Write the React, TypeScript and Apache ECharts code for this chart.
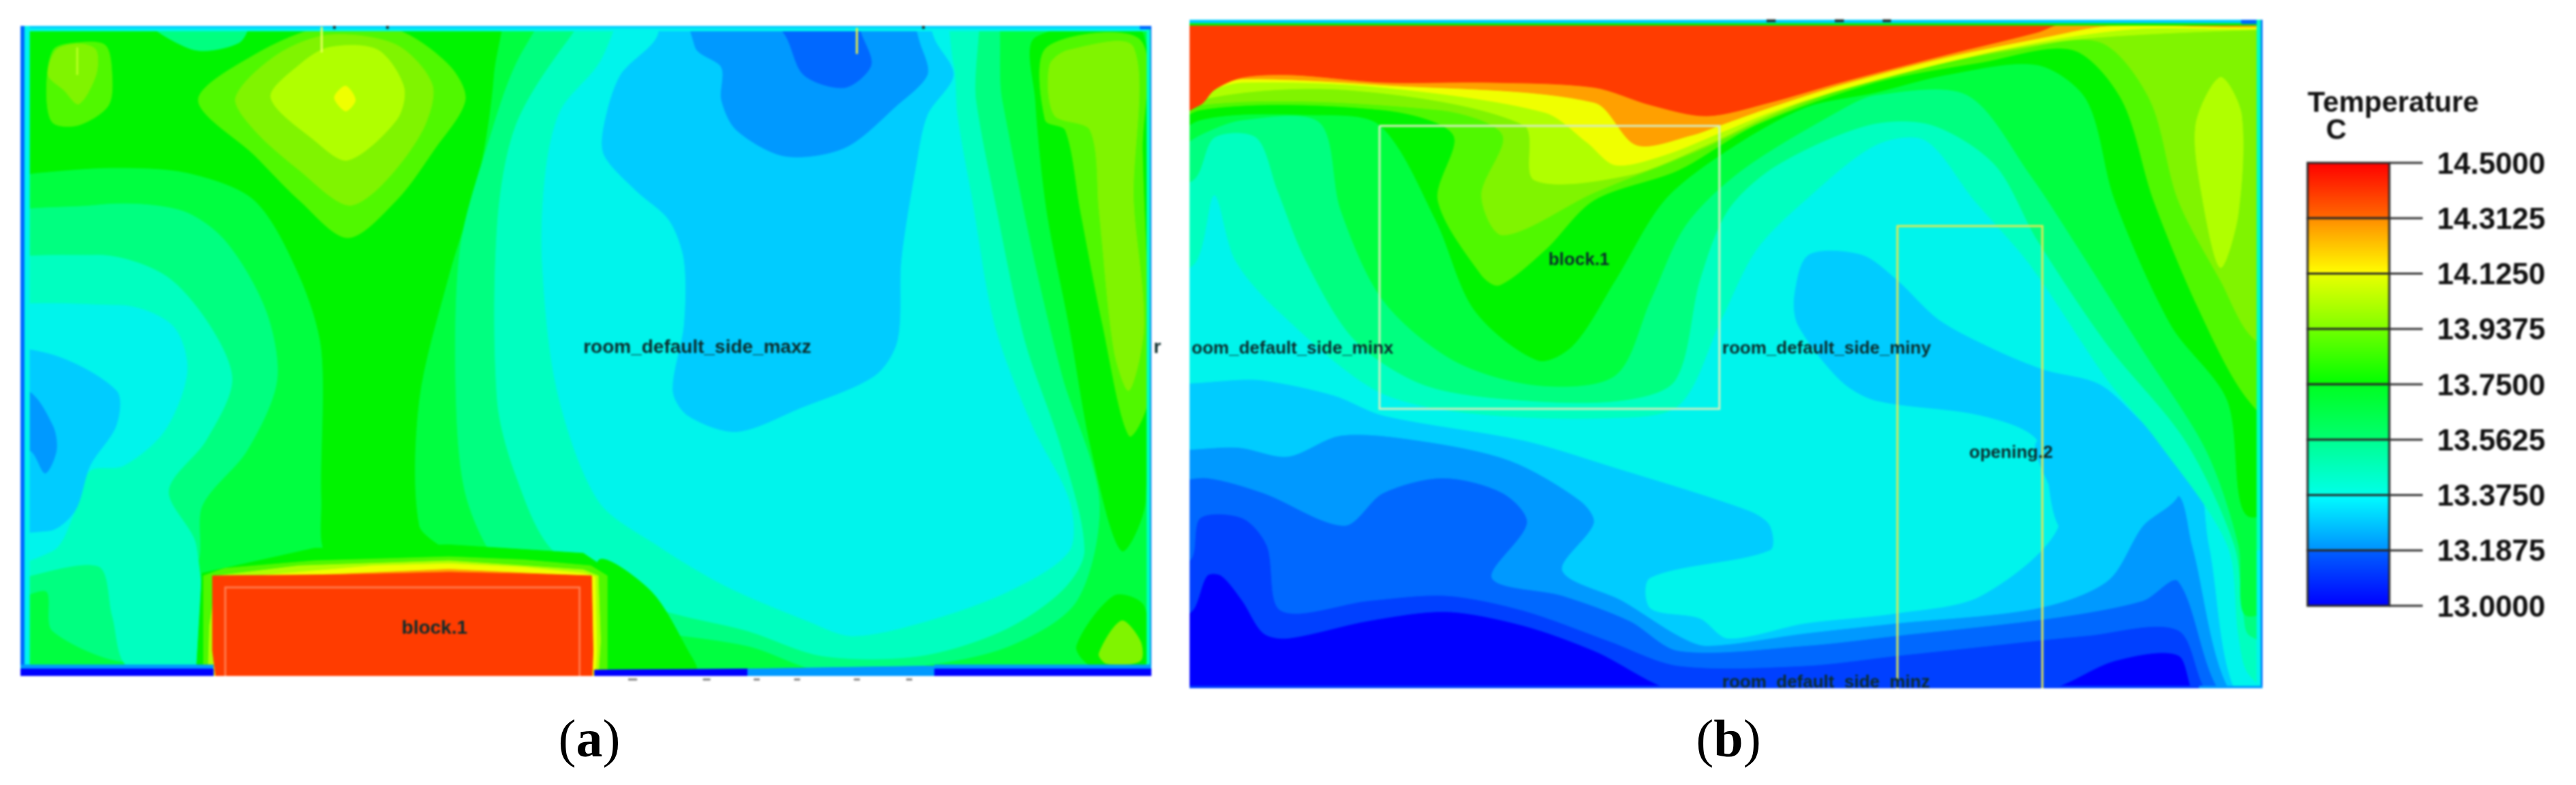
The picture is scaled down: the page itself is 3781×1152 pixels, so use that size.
import React, { useEffect, useRef } from "react";
import * as echarts from "echarts";

// Temperature bands (contour levels), band centre in deg C
const bandColors = ["#0000ff","#0040ff","#0068ff","#0099ff","#00ccff","#00f4ec","#00ffc0","#00ff80","#00ff40","#00f400","#50f800","#80f400","#b0ff00","#f0ff00","#ffa000","#ff3c00"];
const bandStep = 0.09375;
const bandTemps = bandColors.map((_, i) => 13 + (i + 0.5) * bandStep);

// Colour bar
const barTicks = [14.5, 14.3125, 14.125, 13.9375, 13.75, 13.5625, 13.375, 13.1875, 13.0];
const barColors = [["#ff0000","#ff6a00"],["#ff8c00","#ffff00"],["#eaff00","#80ff00"],["#70ff00","#00ff00"],["#00ff20","#00ff70"],["#00ff90","#00ffe8"],["#00ffff","#0090ff"],["#0060ff","#0000ff"]];

type C = [number, number[][], number?];
// Room coordinates: panel (a) x 27..1540, y 52..1350 (y down)
const contoursA: C[] = [
  [8,[[-50,-50],[1620,-50],[1620,1430],[-50,1430]],1],
  [9,[[-50,-50],[660,-50],[660,150],[640,350],[600,550],[560,800],[560,1050],[600,1110],[440,1110],[430,1000],[430,700],[400,550],[340,400],[250,345],[150,335],[50,345],[-50,360]]],
  [7,[[200,45],[330,45],[320,85],[260,100]]],
  [7,[[-50,470],[130,410],[240,420],[300,480],[355,620],[370,760],[330,900],[270,1010],[262,1130],[180,1230],[170,1320],[70,1260],[60,1180],[-50,1230]]],
  [6,[[-50,560],[130,510],[220,550],[280,650],[310,760],[275,880],[225,980],[262,1090],[262,1340],[170,1330],[150,1230],[130,1130],[-50,1150]]],
  [5,[[-50,650],[160,610],[230,650],[250,740],[220,860],[165,930],[120,940],[100,1020],[70,1100],[-50,1130]]],
  [4,[[-50,710],[60,705],[155,780],[155,850],[120,930],[100,1020],[65,1060],[-50,1040]]],
  [3,[[-50,790],[35,780],[70,850],[75,900],[60,945],[40,900],[-50,860]]],
  [7,[[790,-50],[700,100],[650,300],[615,500],[610,800],[625,1000],[680,1150],[800,1240],[1000,1290],[1100,1340],[1230,1330],[1350,1290],[1440,1200],[1470,1000],[1420,750],[1380,500],[1340,200],[1310,-50]]],
  [6,[[840,-50],[760,80],[690,250],[665,450],[665,800],[690,950],[740,1100],[870,1210],[1000,1260],[1100,1310],[1230,1310],[1340,1260],[1420,1180],[1450,1100],[1420,900],[1370,680],[1330,400],[1305,200],[1290,-50]]],
  [5,[[870,-50],[800,130],[750,220],[730,340],[725,520],[745,780],[800,1000],[880,1090],[970,1170],[1080,1240],[1140,1270],[1240,1240],[1350,1180],[1430,1100],[1430,1000],[1380,850],[1330,650],[1300,400],[1280,230],[1275,130],[1240,-50]]],
  [4,[[880,-50],[880,70],[830,150],[808,250],[808,310],[850,380],[895,440],[915,520],[915,650],[900,780],[920,830],[985,862],[1070,815],[1170,750],[1200,680],[1205,520],[1225,330],[1240,230],[1275,150],[1250,80],[1215,-50]]],
  [3,[[925,-50],[930,95],[965,135],[965,200],[985,260],[1050,312],[1130,295],[1200,210],[1240,150],[1232,95],[1190,-50]]],
  [2,[[985,-50],[1050,70],[1075,150],[1130,175],[1165,130],[1150,60],[1135,-50]]],
  [10,[[265,200],[340,110],[430,55],[530,60],[600,130],[622,200],[580,300],[530,400],[465,475],[400,400],[340,310]]],
  [11,[[315,195],[370,110],[440,70],[530,90],[578,170],[565,260],[510,370],[465,410],[400,340],[340,260]]],
  [12,[[362,195],[400,130],[440,95],[505,100],[540,175],[530,240],[465,320],[420,280]]],
  [13,[[447,195],[462,172],[475,200],[462,222]]],
  [10,[[62,180],[71,100],[100,86],[140,90],[149,140],[145,210],[105,250],[70,245]]],
  [11,[[64,150],[75,100],[105,88],[128,100],[128,150],[105,208],[85,180]]],
  [9,[[1385,75],[1530,72],[1532,1000],[1500,1100],[1460,900],[1430,650],[1400,420],[1385,200]]],
  [10,[[1400,95],[1525,80],[1528,300],[1535,800],[1510,870],[1475,650],[1445,420],[1425,260],[1398,240]]],
  [11,[[1404,130],[1430,100],[1516,95],[1516,400],[1530,650],[1510,780],[1490,700],[1470,420],[1458,260],[1410,230]]],
  [9,[[1440,1290],[1490,1190],[1530,1210],[1530,1330],[1460,1330]]],
  [11,[[1470,1305],[1500,1240],[1525,1280],[1525,1320],[1480,1325]]],
  [9,[[800,1120],[870,1180],[920,1300],[930,1340],[800,1340]]],
  [9,[[270,1145],[420,1095],[600,1088],[780,1105],[825,1150],[825,1350],[262,1350]],1],
  [10,[[272,1150],[300,1135],[420,1120],[600,1112],[700,1118],[790,1130],[812,1150],[812,1350],[272,1350]],1],
  [12,[[290,1150],[400,1130],[600,1120],[780,1138],[800,1150],[803,1280],[800,1350],[278,1350],[280,1250]],1],
  [13,[[345,1150],[500,1130],[600,1126],[700,1133],[780,1145],[796,1152],[798,1300],[796,1350],[280,1350]],1],
  [14,[[400,1150],[600,1137],[780,1150],[780,1160],[400,1160]],1],
  [5,[[-50,-50],[1620,-50],[1620,62],[-50,62]],1],
  [4,[[-50,-50],[1620,-50],[1620,56],[-50,56]],1],
  [5,[[-50,-50],[39,-50],[39,1340],[-50,1340]],1],
  [2,[[-50,-50],[32,-50],[32,1340],[-50,1340]],1],
  [6,[[1534,-50],[1620,-50],[1620,1340],[1534,1340]],1],
  [2,[[1539,-50],[1620,-50],[1620,1340],[1539,1340]],1],
  [2,[[1525,-50],[1620,-50],[1620,58],[1525,58]],1],
  [3,[[-50,1328],[285,1328],[285,1430],[-50,1430]],1],
  [0,[[-50,1336],[285,1336],[285,1430],[-50,1430]],1],
  [0,[[795,1338],[1000,1336],[1010,1430],[795,1430]],1],
  [3,[[1000,1336],[1250,1330],[1255,1430],[1000,1430]],1],
  [3,[[1250,1328],[1620,1328],[1620,1430],[1250,1430]],1],
  [0,[[1250,1336],[1620,1336],[1620,1430],[1250,1430]],1],
  [15,[[284,1150],[450,1148],[600,1143],[700,1146],[791,1150],[793,1300],[790,1430],[295,1430],[284,1300]],1],
];

// Room coordinates: panel (b) x 25..1550, y 40..1375 (y down)
const contoursB: C[] = [
  [0,[[-50,-50],[1620,-50],[1620,1430],[-50,1430]],1],
  [1,[[-50,1225],[25,1225],[50,1150],[70,1150],[100,1200],[130,1265],[165,1275],[280,1240],[390,1222],[500,1250],[600,1300],[730,1385],[1130,1385],[1250,1375],[1340,1320],[1430,1309],[1459,1395],[1620,1430],[1620,-50],[-50,-50]]],
  [2,[[-50,1120],[25,1120],[40,1035],[100,1035],[135,1090],[155,1220],[280,1200],[390,1190],[500,1220],[620,1280],[720,1330],[900,1330],[1030,1310],[1130,1295],[1300,1270],[1430,1259],[1479,1395],[1620,1430],[1620,-50],[-50,-50]]],
  [3,[[-50,955],[50,955],[130,985],[245,1050],[300,985],[385,955],[470,985],[505,1045],[455,1155],[555,1190],[650,1240],[720,1300],[900,1290],[1030,1270],[1250,1235],[1380,1200],[1430,1161],[1497,1395],[1620,1430],[1620,-50],[-50,-50]]],
  [4,[[-50,870],[100,895],[165,912],[240,870],[350,880],[480,920],[580,1000],[600,1045],[555,1140],[640,1200],[720,1270],[760,1290],[900,1265],[1030,1245],[1230,1215],[1330,1160],[1380,1050],[1430,990],[1450,1089],[1510,1395],[1620,1430],[1620,-50],[-50,-50]]],
  [5,[[-50,735],[130,760],[230,790],[300,830],[500,880],[620,930],[820,1020],[850,1050],[850,1100],[680,1155],[680,1215],[750,1235],[790,1275],[900,1245],[1030,1225],[1150,1190],[1260,1050],[1230,880],[1440,880],[1474,1089],[1517,1395],[1620,1430],[1620,-50],[-50,-50]]],
  [4,[[905,510],[980,510],[1030,560],[1090,640],[1170,700],[1240,740],[1320,770],[1400,870],[1435,885],[1430,990],[1380,1050],[1330,1150],[1260,1050],[1230,880],[1150,830],[1000,800],[950,760],[890,650],[885,590]]],
  [6,[[-50,535],[30,530],[60,390],[90,520],[150,620],[290,780],[420,825],[620,835],[720,810],[780,640],[830,500],[900,400],[1000,290],[1070,280],[1140,400],[1220,530],[1330,760],[1400,880],[1500,1089],[1516,1270],[1532,1350],[1620,1430],[1620,-50],[-50,-50]]],
  [7,[[-50,380],[30,360],[60,275],[120,275],[150,380],[190,520],[260,680],[360,770],[500,800],[640,800],[715,760],[750,560],[790,420],[860,330],[990,250],[1080,250],[1170,330],[1230,480],[1330,690],[1440,880],[1510,1089],[1523,1225],[1532,1270],[1620,1300],[1620,-50],[-50,-50]]],
  [8,[[-50,340],[40,270],[100,240],[210,245],[240,420],[300,600],[400,720],[520,770],[630,750],[680,600],[730,450],[810,340],[950,220],[1000,190],[1130,190],[1220,350],[1290,500],[1380,700],[1470,900],[1516,1089],[1527,1230],[1620,1150],[1620,-50],[-50,-50]]],
  [9,[[-50,320],[40,240],[200,230],[295,250],[375,440],[430,620],[520,720],[570,690],[630,560],[700,400],[790,300],[900,215],[1000,185],[1100,150],[1230,130],[1300,200],[1340,400],[1420,650],[1500,800],[1528,1030],[1620,950],[1620,-50],[-50,-50]]],
  [10,[[-50,300],[40,220],[300,220],[400,270],[378,400],[440,550],[465,570],[530,500],[600,400],[720,340],[830,250],[1000,165],[1150,125],[1280,100],[1350,200],[1395,400],[1460,620],[1530,800],[1620,900],[1620,-50],[-50,-50]]],
  [11,[[-50,290],[40,210],[380,220],[470,270],[440,390],[470,470],[600,385],[750,300],[850,235],[1000,155],[1200,100],[1320,85],[1390,200],[1430,400],[1490,560],[1540,680],[1620,700],[1620,-50],[-50,-50]]],
  [12,[[-50,280],[40,200],[250,180],[500,250],[515,360],[650,350],[760,290],[850,230],[1000,150],[1250,85],[1370,70],[1540,60],[1620,60],[1620,-50],[-50,-50]]],
  [12,[[1455,250],[1490,155],[1520,230],[1515,430],[1490,535],[1465,400]]],
  [13,[[-50,270],[50,185],[100,165],[300,175],[530,225],[590,285],[630,330],[700,310],[780,265],[850,225],[950,180],[1100,125],[1250,80],[1370,58],[1620,45],[1620,-50],[-50,-50]]],
  [14,[[-50,260],[60,175],[100,158],[300,170],[600,205],[660,290],[740,270],[780,250],[850,215],[950,170],[1100,115],[1250,72],[1330,52],[1620,42],[1620,-50],[-50,-50]]],
  [15,[[-50,255],[40,210],[60,180],[100,155],[170,150],[300,165],[450,165],[600,175],[680,210],[760,232],[850,205],[950,165],[1100,110],[1230,65],[1265,48],[1620,40],[1620,-50],[-50,-50]]],
  [9,[[-50,-50],[1620,-50],[1620,51],[-50,51]],1],
  [4,[[-50,-50],[1620,-50],[1620,46],[-50,46]],1],
  [2,[[1520,-50],[1620,-50],[1620,48],[1520,48]],1],
  [6,[[1542,-50],[1620,-50],[1620,1100],[1542,1100]],1],
  [5,[[1542,1100],[1620,1100],[1620,1430],[1542,1430]],1],
  [2,[[1548,-50],[1620,-50],[1620,1430],[1548,1430]],1],
  [1,[[-50,1371],[1460,1371],[1460,1430],[-50,1430]],1],
  [3,[[1460,1371],[1620,1371],[1620,1430],[1460,1430]],1],
];

type L = [string, number, number];
const labelsA: L[] = [["room_default_side_maxz",780,692],["block.1",537,1253],["r",1543,692]];
const labelsB: L[] = [["oom_default_side_minx",28,695],["block.1",535,517],["room_default_side_miny",782,695],["opening.2",1133,903],["room_default_side_minz",782,1362]];

type S = [string, number, number[][]];
const strokesA: S[] = [
  ["#ff7a4c",3,[[301,1350],[301,1173],[775,1173],[775,1350]]],
  ["#e8ff60",3,[[430,54],[430,105]]],
  ["#b8ff20",3,[[103,95],[103,150]]],
  ["#f0f040",3,[[1146,56],[1146,108]]],
  ["#203030",4,[[447,52],[447,58]]],
  ["#203030",4,[[518,52],[518,58]]],
  ["#203030",4,[[1235,52],[1235,58]]],
  ["#808080",3,[[840,1357],[852,1357]]],
  ["#808080",3,[[940,1357],[950,1357]]],
  ["#808080",3,[[1008,1357],[1016,1357]]],
  ["#808080",3,[[1062,1357],[1070,1357]]],
  ["#808080",3,[[1142,1357],[1150,1357]]],
  ["#808080",3,[[1212,1357],[1220,1357]]],
];
const strokesB: S[] = [
  ["#d6ecc0",3,[[295,252],[778,252],[778,817],[295,817],[295,252]]],
  ["#e4e850",3,[[1031,1375],[1031,452],[1237,452],[1237,1375]]],
  ["#203030",4,[[845,42],[858,42]]],
  ["#203030",4,[[942,42],[955,42]]],
  ["#203030",4,[[1010,42],[1022,42]]],
];

const contourSeries = (list: C[], ax: number) => ({
  type: "custom", xAxisIndex: ax, yAxisIndex: ax, clip: true, silent: true,
  data: list.map((c, i) => [i, bandTemps[c[0]]]),
  renderItem: (p: any, api: any) => {
    const c = list[p.dataIndex];
    return { type: "polygon", shape: { points: c[1].map((q) => api.coord(q)), smooth: c[2] ? 0 : 0.3 },
      style: { fill: api.visual("color"), stroke: api.visual("color"), lineWidth: 1 } };
  },
});
const strokeSeries = (list: S[], ax: number) => ({
  type: "custom", xAxisIndex: ax, yAxisIndex: ax, clip: false, silent: true,
  data: list.map((_, i) => [i]),
  renderItem: (p: any, api: any) => {
    const s = list[p.dataIndex];
    return { type: "polyline", shape: { points: s[2].map((q) => api.coord(q)) },
      style: { stroke: s[0], lineWidth: s[1], fill: "none" } };
  },
});
const labelSeries = (list: L[], ax: number, clip: boolean, size: number) => ({
  type: "custom", xAxisIndex: ax, yAxisIndex: ax, clip, silent: true,
  data: list.map((_, i) => [i]),
  renderItem: (p: any, api: any) => {
    const l = list[p.dataIndex];
    const q = api.coord([l[1], l[2]]);
    return { type: "text", x: q[0], y: q[1],
      style: { text: l[0], fill: "#0c2c2c", font: `bold ${size}px 'Liberation Sans'`, textAlign: "left", textVerticalAlign: "middle" } };
  },
});

const axisOff = { show: false };
const captionRich = {
  n: { font: "78px 'Liberation Serif'", fill: "#000", color: "#000" },
  b: { font: "bold 78px 'Liberation Serif'", fill: "#000", color: "#000" },
};

export default function App() {
  const ref = useRef<HTMLDivElement>(null);
  const capRef = useRef<HTMLDivElement>(null);
  useEffect(() => {
    const chart = echarts.init(ref.current!, undefined, { renderer: "svg" });
    chart.setOption({
      animation: false,
      grid: [
        { left: 30, top: 38, width: 1660, height: 954 },
        { left: 1746, top: 29, width: 1575, height: 981 },
        { left: 3387, top: 239, width: 120, height: 650 },
      ],
      xAxis: [
        { type: "value", gridIndex: 0, min: 27, max: 1540, ...axisOff },
        { type: "value", gridIndex: 1, min: 25, max: 1550, ...axisOff },
        { type: "value", gridIndex: 2, min: 0, max: 1, ...axisOff },
      ],
      yAxis: [
        { type: "value", gridIndex: 0, min: 52, max: 1350, inverse: true, ...axisOff },
        { type: "value", gridIndex: 1, min: 40, max: 1375, inverse: true, ...axisOff },
        {
          type: "value", gridIndex: 2, min: 13, max: 14.5, position: "right",
          axisLine: { show: false },
          splitLine: { show: false },
          axisTick: { show: false },
          axisLabel: {
            show: true, customValues: barTicks, margin: 70, color: "#111111",
            fontFamily: "'Liberation Sans'", fontWeight: "bold", fontSize: 44,
            formatter: (v: number) => v.toFixed(4),
          },
        },
      ],
      visualMap: {
        show: false, type: "piecewise", seriesIndex: [0, 1], dimension: 1,
        pieces: bandColors.map((color, i) => ({ gte: 13 + i * bandStep, lt: 13 + (i + 1) * bandStep, color })),
      },
      series: [
        contourSeries(contoursA, 0),
        contourSeries(contoursB, 1),
        strokeSeries(strokesA, 0),
        strokeSeries(strokesB, 1),
        labelSeries(labelsA, 0, false, 28),
        labelSeries(labelsB, 1, true, 26),
        {
          type: "custom", xAxisIndex: 2, yAxisIndex: 2, clip: false, silent: true,
          data: barColors.map((_, i) => [i, barTicks[i + 1], barTicks[i]]),
          renderItem: (p: any, api: any) => {
            const a = api.coord([0, api.value(2)]);
            const b = api.coord([1, api.value(1)]);
            const cols = barColors[p.dataIndex];
            const line = (v: number) => {
              const s = api.coord([0, v]);
              const e = api.coord([49 / 120, v]);
              return { type: "line", shape: { x1: b[0], y1: s[1], x2: b[0] + (e[0] - s[0]), y2: s[1] }, style: { stroke: "#303030", lineWidth: 3 } };
            };
            const children: any[] = [
              { type: "rect", shape: { x: a[0], y: a[1], width: b[0] - a[0], height: b[1] - a[1] },
                style: { stroke: "#282828", lineWidth: 3,
                  fill: new echarts.graphic.LinearGradient(0, 0, 0, 1, [{ offset: 0, color: cols[0] }, { offset: 1, color: cols[1] }]) } },
              line(api.value(2)),
            ];
            if (p.dataIndex === barColors.length - 1) children.push(line(api.value(1)));
            return { type: "group", children };
          },
        },
      ],
      graphic: [
        { type: "text", x: 3387, y: 128, style: { text: "Temperature", fill: "#111", font: "bold 42px 'Liberation Sans'" } },
        { type: "text", x: 3414, y: 168, style: { text: "C", fill: "#111", font: "bold 42px 'Liberation Sans'" } },
      ],
    });
    const cap = echarts.init(capRef.current!, undefined, { renderer: "svg" });
    cap.setOption({
      animation: false,
      graphic: [
        { type: "text", x: 865, y: 1083, style: { text: "{n|(}{b|a}{n|)}", textAlign: "center", textVerticalAlign: "middle", rich: captionRich } },
        { type: "text", x: 2537, y: 1083, style: { text: "{n|(}{b|b}{n|)}", textAlign: "center", textVerticalAlign: "middle", rich: captionRich } },
      ],
    });
    return () => { chart.dispose(); cap.dispose(); };
  }, []);
  const box: React.CSSProperties = { position: "fixed", left: 0, top: 0, width: 3781, height: 1152 };
  return (
    <>
      <div ref={ref} style={{ ...box, filter: "blur(1.6px)" }} />
      <div ref={capRef} style={{ ...box, pointerEvents: "none" }} />
    </>
  );
}
